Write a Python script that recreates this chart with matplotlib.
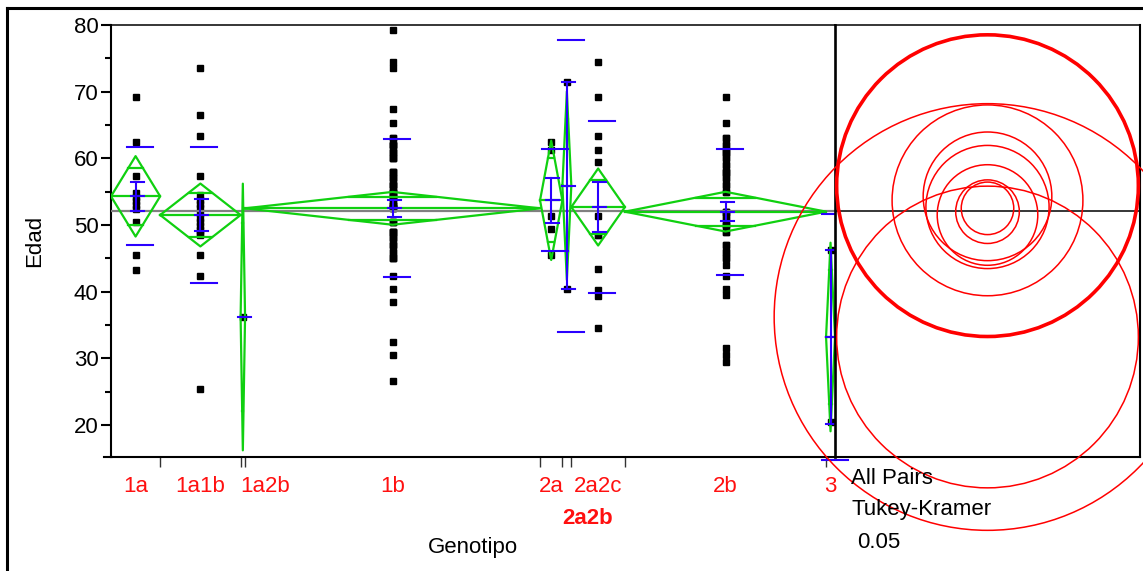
import numpy as np
import matplotlib.pyplot as plt
from matplotlib.patches import Circle
from matplotlib.lines import Line2D

plt.rcParams['font.family'] = ['Liberation Sans', 'DejaVu Sans']

# groups, sample sizes and summary stats
groups = ['1a', '1a1b', '1a2b', '1b', '2a', '2a2b', '2a2c', '2b', '3']
counts = [11, 18, 1, 66, 5, 2, 12, 45, 2]
means = [54.3, 51.5, 36.2, 52.5, 53.7, 55.9, 52.7, 52.0, 33.2]
sds = [7.35, 10.2, np.nan, 10.35, 7.65, 21.9, 12.9, 9.45, 18.4]
grand_mean = 52.1
ci_k = 20.0       # diamond half height * sqrt(n)
circle_k = 32.0   # comparison circle radius * sqrt(n)
selected = '2a2b'

edad = {
    '1a': [69.2, 62.5, 57.4, 54.8, 54.2, 53.6, 53.0, 52.4, 50.4, 45.5, 43.3],
    '1a1b': [73.5, 66.5, 63.4, 57.4, 54.5, 53.8, 53.2, 52.6, 51.8, 51.0, 50.4, 49.8,
             49.2, 48.6, 48.5, 45.5, 42.3, 25.4],
    '1a2b': [36.2],
    '1b': [79.3, 74.4, 73.5, 67.4, 65.3,
           63, 63, 62, 62, 62, 62, 61, 61, 61, 60, 60, 60, 58, 58, 58, 57, 57, 57,
           56, 56, 56, 56, 55, 55, 55, 55, 54, 54, 54, 54, 53, 53, 53, 53,
           52.5, 52.5, 52.5, 50.5, 50.5, 50.5, 49, 49, 49, 49, 48, 48, 48,
           47, 47, 47, 46, 46, 45, 45, 45,
           42.4, 40.4, 38.5, 32.4, 30.5, 26.6],
    '2a': [62.5, 61.3, 51.3, 49.4, 45.5],
    '2a2b': [71.4, 40.4],
    '2a2c': [74.4, 69.2, 63.4, 61.3, 59.5, 51.3, 48.5, 48.5, 43.4, 40.3, 39.4, 34.5],
    '2b': [69.2, 65.3,
           63, 63, 62, 62, 61, 61, 61, 60, 60, 59, 59, 58, 58, 58, 57, 57, 56, 56,
           55, 55, 52, 52, 52, 51, 51, 50, 50, 50, 49, 49, 47, 47, 46, 46, 45, 45, 44,
           42.4, 40.4, 39.5, 31.5, 30.5, 29.4],
    '3': [46.3, 20.5],
}

green = '#10d010'
blue = '#2a00ff'
W, H = 1143, 571
left, right, top, bottom, pright = 111, 835, 25, 457, 1140
ylo, yhi = 15.2, 80


def fx(px):
    return px / W


def fy(py):
    return 1 - py / H


fig = plt.figure(figsize=(W / 100, H / 100), dpi=100)
ax = fig.add_axes([fx(left), fy(bottom), (right - left) / W, (bottom - top) / H])
ax2 = fig.add_axes([fx(right), fy(bottom), (pright - right) / W, (bottom - top) / H], sharey=ax)

counts_a = np.array(counts, dtype=float)
edges = np.concatenate([[0], np.cumsum(counts_a)])
centers = edges[:-1] + counts_a / 2
total = edges[-1]
upx = total / (right - left)   # x data units per pixel

ax.axhline(grand_mean, color='#808080', lw=1.6, zorder=3)

for i, g in enumerate(groups):
    x0, x1, xc = edges[i], edges[i + 1], centers[i]
    n = counts[i]
    m = means[i]
    ci = ci_k / np.sqrt(n)
    vals = edad[g]
    ax.plot([xc] * len(vals), vals, 's', color='k', ms=4.3, zorder=2, clip_on=False)

    # means diamond
    ax.plot([x0, xc, x1, xc, x0], [m, m + ci, m, m - ci, m], color=green, lw=1.6, zorder=4)
    ax.plot([x0, x1], [m, m], color=green, lw=1.6, zorder=4)
    h = ci / np.sqrt(2)
    half = (x1 - x0) / 2 * (1 - 1 / np.sqrt(2))
    for yy in (m + h, m - h):
        ax.plot([xc - half, xc + half], [yy, yy], color=green, lw=1.6, zorder=4)

    # std dev lines and mean error bars
    cap = 6.5 * upx
    cx = xc + 1.5 * upx
    if np.isnan(sds[i]):
        ax.plot([cx - cap, cx + cap], [m, m], color=blue, lw=1.5, zorder=5)
        continue
    sd = sds[i]
    sx = xc + 4 * upx
    for yy in (m + sd, m - sd):
        ax.plot([sx - 13 * upx, sx + 13 * upx], [yy, yy], color=blue, lw=1.5, zorder=5, clip_on=False)
    se = sd / np.sqrt(n)
    ax.plot([xc, xc], [m - se, m + se], color=blue, lw=1.5, zorder=5)
    for yy in (m - se, m, m + se):
        ax.plot([cx - cap, cx + cap], [yy, yy], color=blue, lw=1.5, zorder=5)

ax.set_xlim(0, total)
ax.set_ylim(ylo, yhi)
ax.set_yticks(np.arange(20, 81, 10))
ax.set_yticks(np.arange(25, 80, 10), minor=True)
ax.tick_params(axis='y', which='major', direction='out', length=7, width=1.5, labelsize=16, pad=2)
ax.tick_params(axis='y', which='minor', direction='out', length=4.5, width=1.5)
ax.set_xticks(edges[1:-1])
ax.set_xticklabels([])
ax.tick_params(axis='x', direction='out', length=7, width=1, color='#333333')
ax.spines['right'].set_visible(False)
ax.spines['left'].set_linewidth(1.5)
ax.spines['bottom'].set_linewidth(1.5)
ax.spines['top'].set_linewidth(1.1)

# group labels under the axis
label_left = ['1a2b', '2a2b']
label_row = {'2a2b': 1}
for i, g in enumerate(groups):
    row = label_row.get(g, 0)
    if g in label_left:
        xpos, ha = edges[i], 'left'
    else:
        xpos, ha = centers[i], 'center'
    ax.annotate(g, xy=(xpos, 0), xycoords=('data', 'axes fraction'),
                xytext=(0, -(30 + 31 * row) * 0.72), textcoords='offset points',
                ha=ha, va='center', color='#ff1010', fontsize=16,
                fontweight='bold' if g == selected else 'normal')

fig.text(fx(473), fy(548), 'Genotipo', ha='center', va='center', fontsize=16)
fig.text(fx(35), fy(241), 'Edad', ha='center', va='center', rotation=90, fontsize=16)

# comparison circles panel
ppu = (bottom - top) / (yhi - ylo)
half_w = (pright - right) / ppu / 2
ax2.set_xlim(-half_w, half_w)
ax2.set_xticks([])
ax2.tick_params(axis='y', which='both', left=False, labelleft=False)
for s in ax2.spines.values():
    s.set_linewidth(1.5)
ax2.spines['left'].set_linewidth(1.9)
ax2.spines['top'].set_linewidth(1.1)
ax2.axhline(grand_mean, color='k', lw=1.1)
for i, g in enumerate(groups):
    r = circle_k / np.sqrt(counts[i])
    lw = 2.6 if g == selected else 1.1
    ax2.add_patch(Circle((0, means[i]), r, fill=False, ec='#ff0000', lw=lw,
                         clip_on=False, zorder=6))

fig.text(fx(851), fy(479), 'All Pairs', ha='left', va='center', fontsize=16)
fig.text(fx(851), fy(510), 'Tukey-Kramer', ha='left', va='center', fontsize=16)
fig.text(fx(857), fy(543), '0.05', ha='left', va='center', fontsize=16)

# outline box and axis extension
fig.add_artist(Line2D([fx(7), 1], [fy(8), fy(8)], color='k', lw=2.2))
fig.add_artist(Line2D([fx(7), fx(7)], [fy(8), 0], color='k', lw=2.2))
fig.add_artist(Line2D([fx(104), fx(112)], [fy(457), fy(457)], color='k', lw=1.5))

fig.savefig('out.png', dpi=100)
